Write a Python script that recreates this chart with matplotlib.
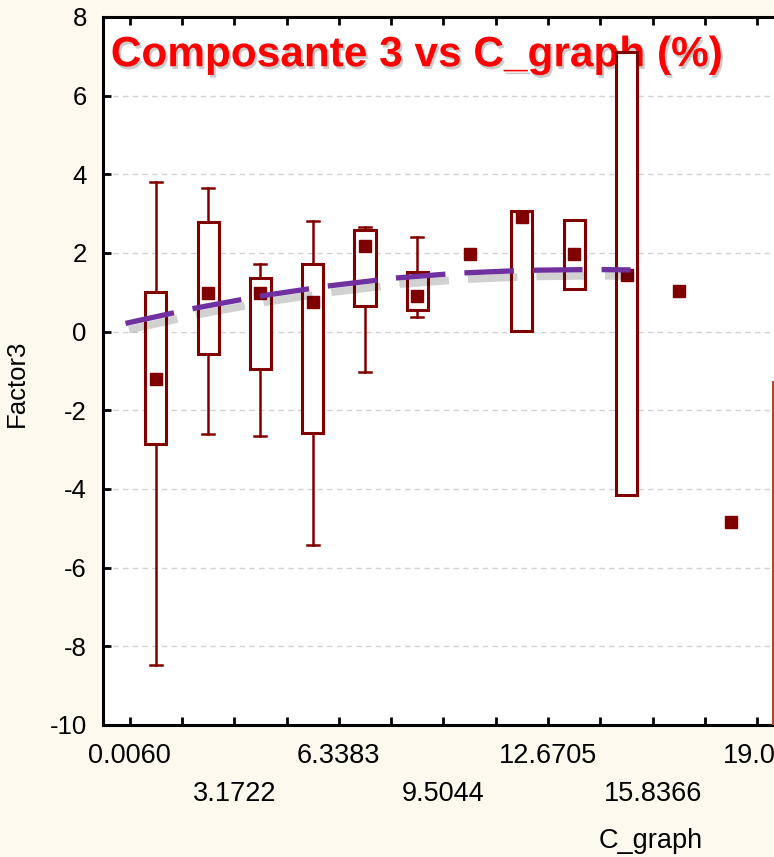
import numpy as np
import matplotlib
matplotlib.use("Agg")
import matplotlib.pyplot as plt
import matplotlib.patheffects as pe

# ---------------- data ----------------
tick_step = 1.58305
x_start = 0.0060
tick_labels = ["0.0060", "3.1722", "6.3383", "9.5044", "12.6705", "15.8366", "19.00"]

# bin index 0..12 (centres between ticks)
box_top = [1.01, 2.79, 1.37, 1.72, 2.59, 1.52, np.nan, 3.07, 2.85, 7.12, np.nan, np.nan, -1.28]
box_bot = [-2.85, -0.57, -0.94, -2.57, 0.66, 0.54, np.nan, 0.02, 1.09, -4.15, np.nan, np.nan, -12.0]
whisk_hi = [3.81, 3.66, 1.72, 2.82, 2.67, 2.41, np.nan, np.nan, np.nan, np.nan, np.nan, np.nan, np.nan]
whisk_lo = [-8.48, -2.61, -2.65, -5.42, -1.02, 0.37, np.nan, np.nan, np.nan, np.nan, np.nan, np.nan, np.nan]
means = [-1.20, 0.98, 0.98, 0.76, 2.18, 0.91, 1.98, 2.92, 1.98, 1.45, 1.03, -4.85, np.nan]

fit_x = [-0.12, 2.0, 4.0, 6.0, 8.0, 10.0, 12.0, 14.0, 15.17]
fit_y = [0.21, 0.60, 0.91, 1.16, 1.36, 1.49, 1.56, 1.58, 1.57]

# ---------------- style ----------------
bg = "#fdf9ee"
dark_red = "#800000"
purple = "#7030a0"
plt.rcParams['font.family'] = ['Liberation Sans', 'DejaVu Sans']

fig = plt.figure(figsize=(7.74, 8.57), dpi=100, facecolor=bg)
x_min = x_start - 0.5 * tick_step
x_max = x_start + 13.5 * tick_step
px_per_unit = 52.3 / tick_step
left_px = 103.5
width_px = (x_max - x_min) * px_per_unit
ax = fig.add_axes([left_px / 774, 132 / 857, width_px / 774, 708 / 857])
ax.set_facecolor("white")
ax.set_xlim(x_min, x_max)
ax.set_ylim(-10, 8)

centers = [x_start + (i + 0.5) * tick_step for i in range(len(means))]
bw = 0.64
cw = 0.36
for i, c in enumerate(centers):
    col = "#b04a2a" if i == 12 else dark_red
    if not np.isnan(box_top[i]):
        ax.add_patch(plt.Rectangle((c - bw / 2, box_bot[i]), bw, box_top[i] - box_bot[i],
                                   fill=True, facecolor="white", edgecolor=col, lw=2.2, zorder=3))
    if not np.isnan(whisk_hi[i]):
        ax.plot([c, c], [box_top[i], whisk_hi[i]], color=col, lw=1.8, zorder=2.5)
        ax.plot([c - cw / 2, c + cw / 2], [whisk_hi[i], whisk_hi[i]], color=col, lw=1.8, zorder=2.5)
    if not np.isnan(whisk_lo[i]):
        ax.plot([c, c], [box_bot[i], whisk_lo[i]], color=col, lw=1.8, zorder=2.5)
        ax.plot([c - cw / 2, c + cw / 2], [whisk_lo[i], whisk_lo[i]], color=col, lw=1.8, zorder=2.5)
    if not np.isnan(means[i]):
        ax.plot(c, means[i], marker="s", ms=8.5, color=dark_red, mec=dark_red, zorder=4)

ax.plot(fit_x, fit_y, color=purple, lw=3.8, dashes=(9.4, 3.6), solid_capstyle="butt",
        dash_capstyle="butt", zorder=5,
        path_effects=[pe.SimpleLineShadow(offset=(2.5, -4.5), shadow_color="black", alpha=0.18,
                                          linewidth=5.5),
                      pe.Normal()])

# grid
ax.yaxis.grid(True, color="#d2d2d2", ls=(0, (4, 3)), lw=1.0, zorder=0)
ax.set_axisbelow(True)

# title inside
ax.text(0.01, 0.946, "Composante 3 vs C_graph (%)", transform=ax.transAxes,
        color="#ff0000", fontsize=30.5, fontweight="bold", ha="left", va="center", zorder=1,
        path_effects=[pe.withSimplePatchShadow(offset=(1.5, -2), shadow_rgbFace="black", alpha=0.2)])

# ticks
ax.set_yticks(np.arange(-10, 9, 2))
ax.set_yticklabels([str(v) for v in range(-10, 9, 2)])
all_ticks = [x_start + k * tick_step for k in range(14)]
ax.set_xticks(all_ticks)
lbls = []
for k in range(14):
    if k % 2 == 0 and k // 2 < len(tick_labels):
        j = k // 2
        lbls.append(tick_labels[j] if j % 2 == 0 else "\n" + tick_labels[j])
    else:
        lbls.append("")
ax.set_xticklabels(lbls, linespacing=1.62)
ax.tick_params(axis="both", direction="in", length=6, width=2, color="black")
ax.tick_params(axis="x", top=True, pad=13, labelsize=19.5)
ax.tick_params(axis="y", pad=12, labelsize=18.5)
for s in ax.spines.values():
    s.set_linewidth(2.2)
    s.set_color("black")

fig.text(17 / 774, 1 - 383 / 857, "Factor3", fontsize=18.5, rotation=90,
         ha="center", va="center")
fig.text(651 / 774, 1 - 841 / 857, "C_graph", fontsize=19.5, ha="center", va="center")

fig.savefig("out.png", dpi=100, facecolor=bg)
